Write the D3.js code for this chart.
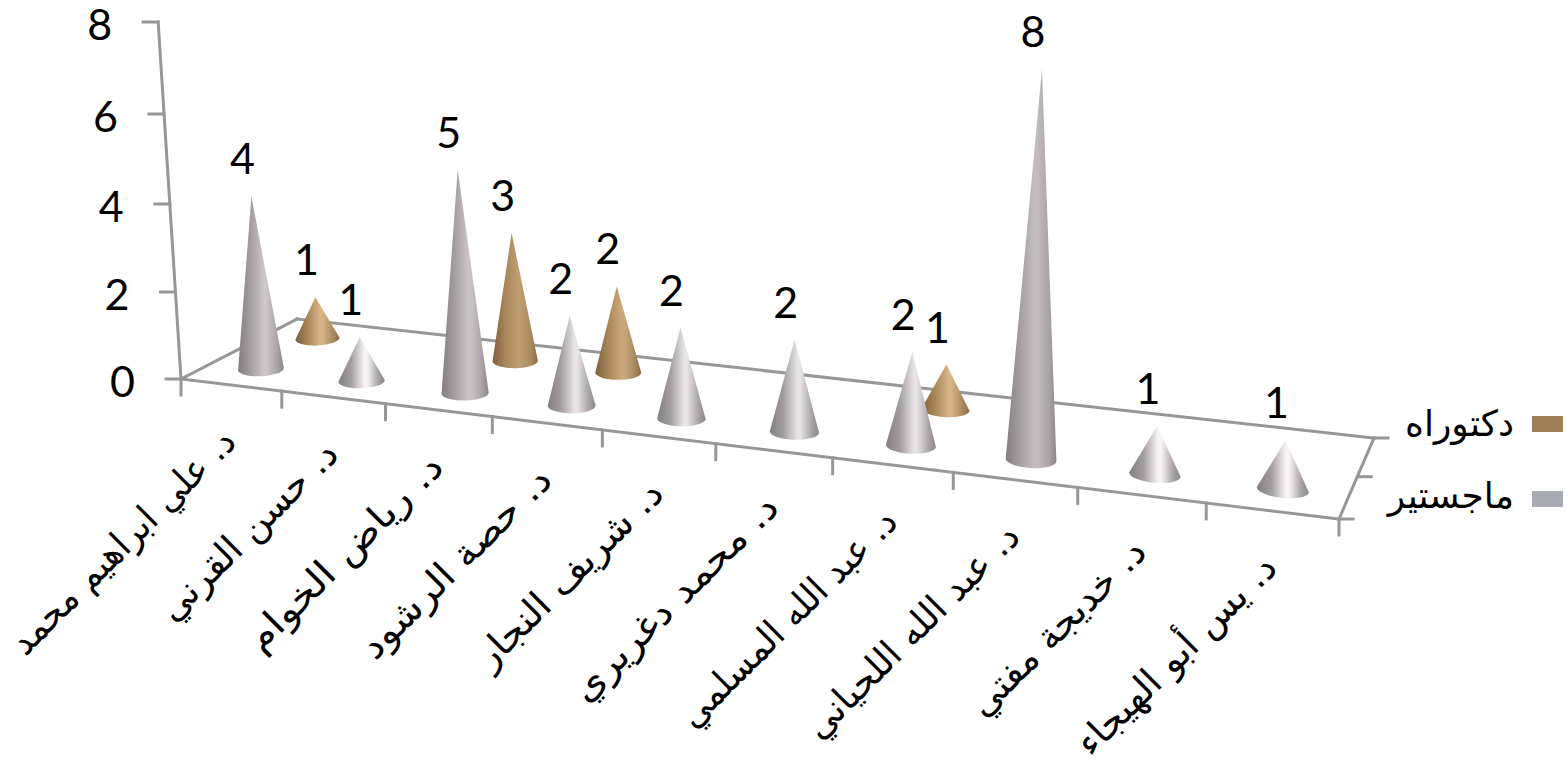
<!DOCTYPE html>
<html lang="ar">
<head>
<meta charset="utf-8">
<title>chart</title>
<script src="https://cdn.jsdelivr.net/npm/d3@7/dist/d3.min.js"></script>
<style>
html,body{margin:0;padding:0;background:#fff;overflow:hidden}
svg{display:block}
.num{font-family:Lato,"Open Sans",sans-serif;fill:#000}
.ar{font-family:"DejaVu Sans",sans-serif;fill:#000}
</style>
</head>
<body>
<svg id="chart" width="1567" height="763"></svg>
<script>
const categories = [
  "د. علي ابراهيم محمد","د. حسن القرني","د. رياض الخوام","د. حصة الرشود","د. شريف النجار",
  "د. محمد دغريري","د. عبد الله المسلمي","د. عبد الله اللحياني","د. خديجة مفتي","د. يس أبو الهيجاء"
];
const seriesNames = ["ماجستير","دكتوراه"];
const masters   = [4,1,5,2,2,2,2,8,1,1];
const doctorate = [1,null,3,2,null,null,1,null,null,null];
const valueTicks = [0,2,4,6,8];
const labelWidths = [301,236,261,253,248,275,291,286,233,266];

const svg = d3.select("#chart");
const defs = svg.append("defs");

// floor plane corners on screen, as a projective map of the unit square
const P0={x:181,y:379}, P1={x:1339,y:519}, P2={x:1374,y:438}, P3={x:297,y:319};
const sx=P0.x-P1.x+P2.x-P3.x, sy=P0.y-P1.y+P2.y-P3.y;
const d1x=P1.x-P2.x, d1y=P1.y-P2.y, d2x=P3.x-P2.x, d2y=P3.y-P2.y;
const det=d1x*d2y-d2x*d1y;
const g=(sx*d2y-d2x*sy)/det, h=(d1x*sy-sx*d1y)/det;
const weight=(u,v)=>1+g*u+h*v;
function project(u,v){
  const w=weight(u,v);
  return {
    x:((P1.x-P0.x+g*P1.x)*u+(P3.x-P0.x+h*P3.x)*v+P0.x)/w,
    y:((P1.y-P0.y+g*P1.y)*u+(P3.y-P0.y+h*P3.y)*v+P0.y)/w
  };
}
const uScale=d3.scaleBand().domain(categories).range([0,1]);
const vScale=d3.scaleBand().domain(seriesNames).range([0,1]);
const heightScale=d3.scaleLinear().domain(valueTicks).range([0,87,175,265,357]);
const lean=x=>(x-773)*1.08e-4;
const tilt=x=>(x-600)*0.0088;

const axisColor="#979797";
const axes=svg.append("g").attr("stroke",axisColor).attr("stroke-width",3).attr("fill","none").attr("stroke-linecap","square");
const seg=(a,b,c,d)=>axes.append("line").attr("x1",a).attr("y1",b).attr("x2",c).attr("y2",d);

// floor outline
[[P0,P1],[P3,P2],[P0,P3],[P1,P2]].forEach(([a,b])=>seg(a.x,a.y,b.x,b.y));

// value axis
const wallAt=v=>{const H=heightScale(v);return {x:P0.x+lean(P0.x)*H,y:P0.y-H};};
seg(wallAt(0).x,wallAt(0).y,wallAt(8).x,wallAt(8).y);
valueTicks.forEach(v=>{
  const p=wallAt(v);
  seg(p.x-15,p.y,p.x,p.y);
  svg.append("text").attr("class","num").attr("font-size",43).attr("text-anchor","end")
    .attr("x",p.x-46).attr("y",p.y+18).text(v);
});

// category ticks
d3.range(categories.length+1).forEach(i=>{
  const p=project(i/categories.length,0);
  seg(p.x,p.y,p.x,p.y+16);
});
// depth ticks
[0,0.5,1].forEach(v=>{
  const p=project(1,v);
  seg(p.x,p.y,p.x+14,p.y);
});

// gradients
const palettes={
  [seriesNames[0]]:{edgeL:"#857e81",midL:"#a59ea1",edgeR:"#8d8689",midR:"#aba4a7",
    center:d3.scaleLinear().domain([1,2,4,8]).range(["#f8f4f5","#e8e3e5","#cdc7ca","#c3bcbf"])},
  [seriesNames[1]]:{edgeL:"#7f6040",midL:"#a88659",edgeR:"#8c6b45",midR:"#a98a60",
    center:d3.scaleLinear().domain([1,3]).range(["#d6b488","#bc9c70"])}
};
function gradientFor(s,val){
  const id="g"+seriesNames.indexOf(s)+"v"+val;
  if(defs.select("#"+id).empty()){
    const p=palettes[s], lg=defs.append("linearGradient").attr("id",id).attr("x1",0).attr("x2",1).attr("y1",0).attr("y2",0);
    [[0,p.edgeL],[0.28,p.midL],[0.56,p.center(val)],[0.62,p.center(val)],[0.85,p.midR],[1,p.edgeR]]
      .forEach(([o,c])=>lg.append("stop").attr("offset",o).attr("stop-color",c));
  }
  return "url(#"+id+")";
}

// marks
const marks=[];
[[seriesNames[1],doctorate],[seriesNames[0],masters]].forEach(([s,vals])=>{
  vals.forEach((val,i)=>{
    if(val==null) return;
    marks.push({s,val,cat:categories[i]});
  });
});
const cones=svg.append("g"), labels=svg.append("g");
marks.forEach(m=>{
  const u=uScale(m.cat)+uScale.bandwidth()/2, v=vScale(m.s)+vScale.bandwidth()/2;
  const w=weight(u,v), c=project(u,v);
  const H=heightScale(m.val)/w;
  const apex={x:c.x+lean(c.x)*H,y:c.y-H};
  const rx=23.2/w, ry=rx*0.32, t=tilt(c.x), rad=t*Math.PI/180;
  const lx=c.x-rx*Math.cos(rad), ly=c.y-rx*Math.sin(rad), ex=c.x+rx*Math.cos(rad), ey=c.y+rx*Math.sin(rad);
  cones.append("path")
    .attr("d",`M${apex.x},${apex.y}L${lx},${ly}A${rx},${ry} ${t} 0 0 ${ex},${ey}Z`)
    .attr("fill",gradientFor(m.s,m.val));
  labels.append("text").attr("class","num").attr("font-size",43).attr("text-anchor","middle")
    .attr("x",apex.x-9).attr("y",apex.y-22).text(m.val);
});

// category labels
categories.forEach((cat,i)=>{
  const p=project(uScale(cat)+uScale.bandwidth()/2,0);
  svg.append("text").attr("class","ar").attr("font-size",37).attr("text-anchor","end")
    .attr("textLength",labelWidths[i]).attr("lengthAdjust","spacingAndGlyphs")
    .attr("transform",`translate(${p.x+7},${p.y+59}) rotate(-45)`)
    .text(cat);
});

// legend
const legend=[[seriesNames[1],"#9e7f57",416,436],[seriesNames[0],"#a9abb3",491,508]];
legend.forEach(([name,col,top,base])=>{
  svg.append("rect").attr("x",1532).attr("y",top).attr("width",31).attr("height",16).attr("fill",col);
  svg.append("text").attr("class","ar").attr("font-size",36).attr("text-anchor","end")
    .attr("x",1514).attr("y",base).text(name);
});
</script>
</body>
</html>
